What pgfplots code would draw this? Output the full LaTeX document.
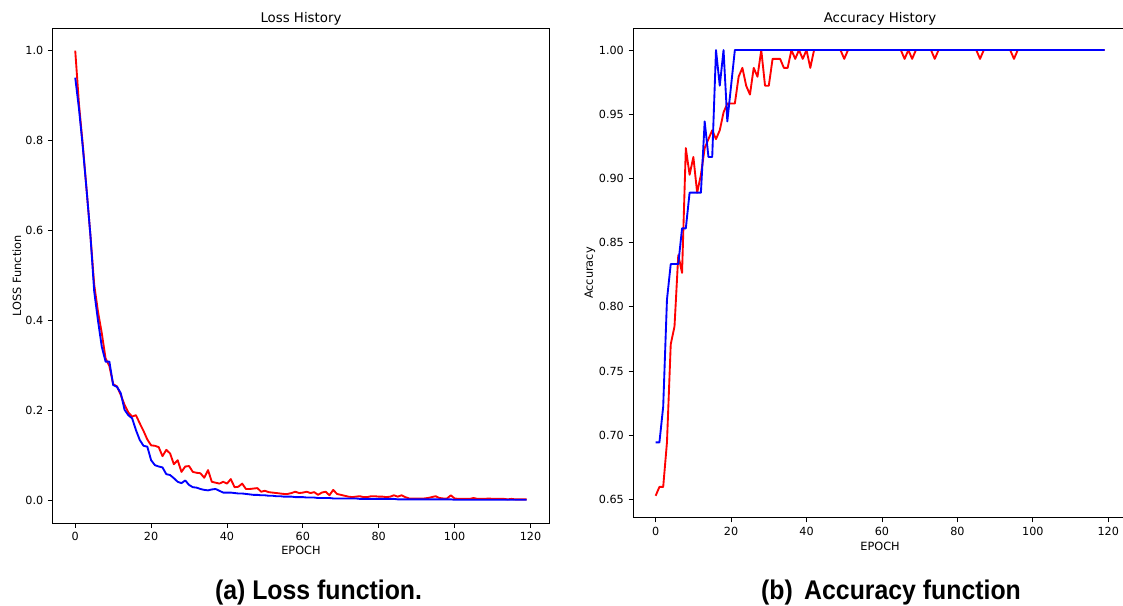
\documentclass[border=0pt]{standalone}
\usepackage{pgfplots}
\pgfplotsset{compat=1.18}
\usepackage{fontspec}
\setmainfont{DejaVu Sans}
\newfontfamily\capfont[FakeStretch=0.92]{Liberation Sans}
\definecolor{pyred}{RGB}{255,0,0}
\definecolor{pyblue}{RGB}{0,0,255}
\pgfplotsset{
  mpl/.style={
    scale only axis, anchor=south west,
    axis line style={line width=0.6pt, black},
    every tick/.style={line width=0.6pt, black},
    tick align=outside, major tick length=3.5pt,
    tick pos=left,
    ticklabel style={font=\fontsize{8.4}{10}\selectfont},
    label style={font=\fontsize{8.5}{10}\selectfont},
    title style={font=\fontsize{10}{12}\selectfont, at={(axis description cs:0.5,1)}, anchor=base, yshift=-1.75pt},
    /pgf/number format/assume math mode=true,
    xmin=-5.95, xmax=124.95,
    xtick={0,20,40,60,80,100,120},
    every axis plot/.append style={line width=1.4pt, line join=round, no marks},
  }
}
\begin{document}
\begin{tikzpicture}
\path[use as bounding box] (0,0) rectangle (842.25pt,454.5pt);

% ---------- Loss ----------
\begin{axis}[mpl,
  at={(39.5pt,62.1pt)}, width=372.45pt, height=371.25pt,
  ymin=-0.05, ymax=1.05,
  ytick={0,0.2,0.4,0.6,0.8,1.0},
  yticklabel style={/pgf/number format/.cd, fixed, fixed zerofill, precision=1},
  title={Loss History},
  xlabel={EPOCH}, ylabel={LOSS Function},
  xlabel style={at={(axis description cs:0.5,-0.0541)}, anchor=center},
  ylabel style={at={(axis description cs:-0.0719,0.5)}, anchor=center},
]
\addplot[pyred] coordinates {
(0,1.000)(1,0.880)(2,0.790)(3,0.690)(4,0.590)(5,0.480)(6,0.420)(7,0.372)(8,0.316)(9,0.299)
(10,0.259)(11,0.254)(12,0.235)(13,0.213)(14,0.196)(15,0.187)(16,0.190)(17,0.172)(18,0.155)(19,0.136)
(20,0.123)(21,0.122)(22,0.119)(23,0.099)(24,0.113)(25,0.105)(26,0.081)(27,0.090)(28,0.064)(29,0.076)
(30,0.077)(31,0.064)(32,0.062)(33,0.061)(34,0.051)(35,0.068)(36,0.042)(37,0.040)(38,0.038)(39,0.042)
(40,0.038)(41,0.048)(42,0.030)(43,0.031)(44,0.038)(45,0.026)(46,0.026)(47,0.027)(48,0.028)(49,0.020)
(50,0.022)(51,0.019)(52,0.018)(53,0.017)(54,0.016)(55,0.015)(56,0.015)(57,0.017)(58,0.020)(59,0.017)
(60,0.018)(61,0.020)(62,0.017)(63,0.019)(64,0.013)(65,0.018)(66,0.020)(67,0.012)(68,0.024)(69,0.015)
(70,0.013)(71,0.011)(72,0.009)(73,0.008)(74,0.009)(75,0.010)(76,0.008)(77,0.008)(78,0.010)(79,0.010)
(80,0.009)(81,0.009)(82,0.008)(83,0.009)(84,0.012)(85,0.009)(86,0.012)(87,0.008)(88,0.005)(89,0.005)
(90,0.005)(91,0.005)(92,0.005)(93,0.006)(94,0.008)(95,0.010)(96,0.006)(97,0.005)(98,0.005)(99,0.012)
(100,0.005)(101,0.004)(102,0.004)(103,0.004)(104,0.004)(105,0.006)(106,0.004)(107,0.004)(108,0.004)(109,0.005)
(110,0.004)(111,0.004)(112,0.004)(113,0.004)(114,0.003)(115,0.004)(116,0.003)(117,0.003)(118,0.003)(119,0.003)
};
\addplot[pyblue] coordinates {
(0,0.940)(1,0.870)(2,0.785)(3,0.690)(4,0.590)(5,0.465)(6,0.400)(7,0.342)(8,0.309)(9,0.309)
(10,0.257)(11,0.253)(12,0.239)(13,0.202)(14,0.190)(15,0.183)(16,0.157)(17,0.135)(18,0.122)(19,0.120)
(20,0.090)(21,0.079)(22,0.076)(23,0.074)(24,0.059)(25,0.057)(26,0.050)(27,0.042)(28,0.039)(29,0.045)
(30,0.035)(31,0.030)(32,0.029)(33,0.026)(34,0.024)(35,0.023)(36,0.025)(37,0.026)(38,0.022)(39,0.018)
(40,0.018)(41,0.018)(42,0.017)(43,0.016)(44,0.016)(45,0.015)(46,0.014)(47,0.013)(48,0.013)(49,0.012)
(50,0.012)(51,0.011)(52,0.011)(53,0.010)(54,0.010)(55,0.009)(56,0.009)(57,0.009)(58,0.008)(59,0.008)
(60,0.008)(61,0.007)(62,0.007)(63,0.007)(64,0.006)(65,0.006)(66,0.006)(67,0.006)(68,0.005)(69,0.005)
(70,0.005)(71,0.005)(72,0.005)(73,0.005)(74,0.005)(75,0.004)(76,0.004)(77,0.004)(78,0.004)(79,0.004)
(80,0.004)(81,0.004)(82,0.004)(83,0.004)(84,0.004)(85,0.003)(86,0.003)(87,0.003)(88,0.003)(89,0.003)
(90,0.003)(91,0.003)(92,0.003)(93,0.003)(94,0.003)(95,0.003)(96,0.003)(97,0.003)(98,0.003)(99,0.003)
(100,0.002)(101,0.002)(102,0.002)(103,0.002)(104,0.002)(105,0.002)(106,0.002)(107,0.002)(108,0.002)(109,0.002)
(110,0.002)(111,0.002)(112,0.002)(113,0.002)(114,0.002)(115,0.002)(116,0.002)(117,0.002)(118,0.002)(119,0.002)
};
\end{axis}

% ---------- Accuracy ----------
\begin{axis}[mpl,
  at={(474.9pt,66.2pt)}, width=370.3pt, height=367.05pt,
  ymin=0.6357, ymax=1.0169,
  ytick={0.65,0.70,0.75,0.80,0.85,0.90,0.95,1.00},
  yticklabel style={/pgf/number format/.cd, fixed, fixed zerofill, precision=2},
  title={Accuracy History},
  xlabel={EPOCH}, ylabel={Accuracy},
  xlabel style={at={(axis description cs:0.5,-0.0578)}, anchor=center},
  ylabel style={at={(axis description cs:-0.0875,0.5)}, anchor=center},
]
\addplot[pyred] coordinates {
(0,0.6528)(1,0.6597)(2,0.6597)(3,0.6944)(4,0.7708)(5,0.7847)(6,0.8403)(7,0.8264)(8,0.9236)(9,0.9028)
(10,0.9167)(11,0.8889)(12,0.9028)(13,0.9236)(14,0.9306)(15,0.9375)(16,0.9306)(17,0.9375)(18,0.9514)(19,0.9583)
(20,0.9583)(21,0.9583)(22,0.9792)(23,0.9861)(24,0.9722)(25,0.9653)(26,0.9861)(27,0.9792)(28,1.0)(29,0.9722)
(30,0.9722)(31,0.9931)(32,0.9931)(33,0.9931)(34,0.9861)(35,0.9861)(36,1.0)(37,0.9931)(38,1.0)(39,0.9931)
(40,1.0)(41,0.9861)(42,1.0)(43,1.0)(44,1.0)(45,1.0)(46,1.0)(47,1.0)(48,1.0)(49,1.0)
(50,0.9931)(51,1.0)(52,1.0)(53,1.0)(54,1.0)(55,1.0)(56,1.0)(57,1.0)(58,1.0)(59,1.0)
(60,1.0)(61,1.0)(62,1.0)(63,1.0)(64,1.0)(65,1.0)(66,0.9931)(67,1.0)(68,0.9931)(69,1.0)
(70,1.0)(71,1.0)(72,1.0)(73,1.0)(74,0.9931)(75,1.0)(76,1.0)(77,1.0)(78,1.0)(79,1.0)
(80,1.0)(81,1.0)(82,1.0)(83,1.0)(84,1.0)(85,1.0)(86,0.9931)(87,1.0)(88,1.0)(89,1.0)
(90,1.0)(91,1.0)(92,1.0)(93,1.0)(94,1.0)(95,0.9931)(96,1.0)(97,1.0)(98,1.0)(99,1.0)
(100,1.0)(101,1.0)(102,1.0)(103,1.0)(104,1.0)(105,1.0)(106,1.0)(107,1.0)(108,1.0)(109,1.0)
(110,1.0)(111,1.0)(112,1.0)(113,1.0)(114,1.0)(115,1.0)(116,1.0)(117,1.0)(118,1.0)(119,1.0)
};
\addplot[pyblue] coordinates {
(0,0.6944)(1,0.6944)(2,0.7222)(3,0.8056)(4,0.8333)(5,0.8333)(6,0.8333)(7,0.8611)(8,0.8611)(9,0.8889)
(10,0.8889)(11,0.8889)(12,0.8889)(13,0.9444)(14,0.9167)(15,0.9167)(16,1.0)(17,0.9722)(18,1.0)(19,0.9444)
(20,0.9722)(21,1.0)(30,1.0)(40,1.0)(50,1.0)(60,1.0)(70,1.0)(80,1.0)(90,1.0)(100,1.0)(110,1.0)(119,1.0)
};
\end{axis}

\node[font=\capfont\bfseries\fontsize{20.25}{24}\selectfont, anchor=base] at (238.9pt,4.9pt) {(a) Loss function.};
\node[font=\capfont\bfseries\fontsize{20.25}{24}\selectfont, anchor=base] at (668.25pt,4.9pt) {(b)\, Accuracy function};
\end{tikzpicture}
\end{document}
